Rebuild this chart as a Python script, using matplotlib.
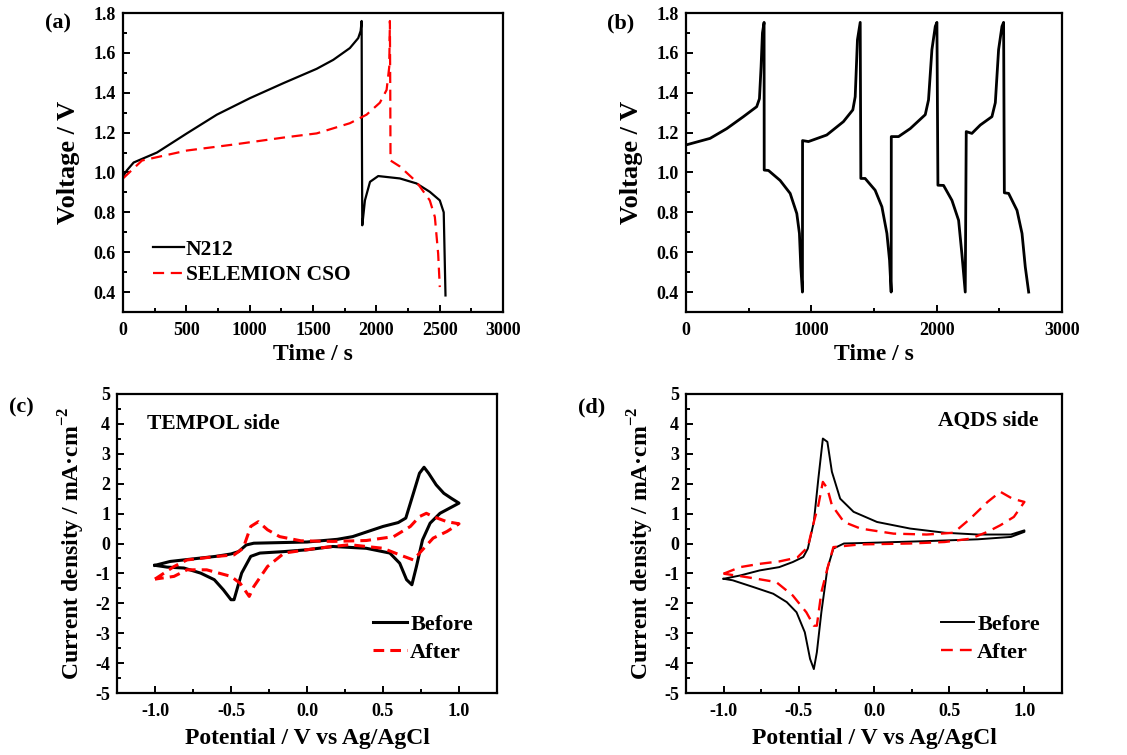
import numpy as np
import matplotlib
matplotlib.use("Agg")
import matplotlib.pyplot as plt
from matplotlib.ticker import MultipleLocator, FormatStrFormatter

# ---- panel (a): charge/discharge, two membranes ----
n212_t = [0, 30, 84, 268, 504, 741, 1003, 1266, 1529, 1660, 1791, 1857, 1876, 1884,
          1886, 1889, 1900, 1910, 1950, 2015, 2186, 2317, 2422, 2501, 2532, 2546]
n212_v = [0.98, 1.01, 1.05, 1.10, 1.196, 1.29, 1.373, 1.448, 1.52, 1.565, 1.624, 1.674, 1.71, 1.76,
          1.2, 0.735, 0.80, 0.86, 0.953, 0.982, 0.97, 0.945, 0.903, 0.86, 0.80, 0.383]

cso_t = [0, 50, 150, 504, 872, 1266, 1529, 1791, 1923, 2028, 2081, 2102, 2107,
         2110, 2112, 2186, 2317, 2422, 2462, 2488, 2501]
cso_v = [0.97, 1.00, 1.06, 1.11, 1.14, 1.175, 1.196, 1.247, 1.29, 1.35, 1.414, 1.53, 1.76,
         1.40, 1.06, 1.03, 0.953, 0.86, 0.777, 0.593, 0.425]

# ---- panel (b): cycling of N212 cell ----
cyc_t = [0, 192, 325, 458, 564, 586, 599, 610, 623,
         624, 658, 751, 831, 884, 905, 916, 929,
         930, 977, 1123, 1256, 1331, 1350, 1368, 1390,
         1395, 1429, 1509, 1563, 1603, 1624, 1637,
         1638, 1696, 1789, 1909, 1935, 1962, 1989, 2002,
         2010, 2055, 2122, 2175, 2201, 2228,
         2236, 2281, 2348, 2441, 2468, 2494, 2521, 2534,
         2540, 2574, 2641, 2681, 2707, 2734]
cyc_v = [1.138, 1.171, 1.22, 1.28, 1.33, 1.37, 1.53, 1.70, 1.753,
         1.012, 1.01, 0.96, 0.895, 0.794, 0.694, 0.526, 0.40,
         1.16, 1.155, 1.188, 1.255, 1.314, 1.38, 1.666, 1.753,
         0.97, 0.97, 0.911, 0.828, 0.694, 0.56, 0.40,
         1.18, 1.18, 1.22, 1.29, 1.364, 1.616, 1.733, 1.753,
         0.936, 0.935, 0.86, 0.76, 0.593, 0.40,
         1.205, 1.196, 1.238, 1.28, 1.35, 1.616, 1.733, 1.753,
         0.898, 0.895, 0.81, 0.694, 0.526, 0.40]

# ---- panel (c): TEMPOL side CV ----
tempol_before_e = [-1.0, -0.9, -0.6, -0.5, -0.45, -0.4, -0.35, 0.0, 0.2, 0.3, 0.4, 0.5, 0.6, 0.65,
                   0.7, 0.74, 0.77, 0.8, 0.85, 0.9, 0.95, 1.0,
                   0.875, 0.81, 0.76, 0.72, 0.69, 0.655, 0.61, 0.545, 0.39, 0.17, 0.0, -0.15,
                   -0.31, -0.37, -0.43, -0.48, -0.5, -0.55, -0.61, -0.7, -0.81, -0.92, -1.0]
tempol_before_j = [-0.73, -0.6, -0.43, -0.35, -0.27, -0.05, 0.01, 0.05, 0.14, 0.23, 0.4, 0.57, 0.7, 0.85,
                   1.68, 2.35, 2.55, 2.35, 1.96, 1.68, 1.51, 1.35,
                   1.01, 0.68, 0.12, -0.77, -1.38, -1.21, -0.66, -0.32, -0.16, -0.1, -0.21, -0.27,
                   -0.32, -0.43, -0.99, -1.88, -1.88, -1.55, -1.21, -0.99, -0.82, -0.79, -0.73]

tempol_after_e = [-1.0, -0.875, -0.79, -0.59, -0.48, -0.42, -0.37, -0.32, -0.26, -0.18, -0.04,
                  0.17, 0.39, 0.57, 0.68, 0.74, 0.785, 0.83, 0.92, 1.0,
                  0.92, 0.83, 0.76, 0.7, 0.61, 0.5, 0.28, 0.065, -0.15, -0.26, -0.35, -0.38,
                  -0.44, -0.5, -0.66, -0.79, -0.875, -1.0]
tempol_after_j = [-1.19, -0.77, -0.55, -0.43, -0.38, -0.16, 0.57, 0.73, 0.46, 0.23, 0.09,
                  0.07, 0.10, 0.23, 0.57, 0.9, 1.01, 0.9, 0.73, 0.66,
                  0.4, 0.18, -0.21, -0.55, -0.38, -0.16, -0.04, -0.16, -0.32, -0.77, -1.44, -1.77,
                  -1.33, -1.1, -0.88, -0.88, -1.1, -1.19]

# ---- panel (d): AQDS side CV ----
aqds_before_e = [-1.0, -0.89, -0.76, -0.63, -0.54, -0.47, -0.44, -0.4, -0.37, -0.34, -0.31, -0.28,
                 -0.225, -0.136, 0.02, 0.24, 0.47, 0.69, 0.91, 1.0,
                 1.0, 0.91, 0.69, 0.35, 0.02, -0.2, -0.27, -0.31, -0.35, -0.38, -0.4, -0.425,
                 -0.46, -0.515, -0.58, -0.67, -0.8, -0.94, -1.0]
aqds_before_j = [-1.18, -1.07, -0.9, -0.79, -0.62, -0.45, -0.17, 0.72, 2.17, 3.51, 3.4, 2.4,
                 1.5, 1.06, 0.72, 0.5, 0.36, 0.3, 0.3, 0.44,
                 0.39, 0.22, 0.14, 0.08, 0.03, 0.0, -0.17, -0.84, -2.3, -3.64, -4.2, -3.86,
                 -2.97, -2.3, -1.96, -1.68, -1.46, -1.23, -1.18]

aqds_after_e = [-1.0, -0.89, -0.76, -0.63, -0.51, -0.44, -0.4, -0.37, -0.34, -0.31, -0.28, -0.2,
                -0.09, 0.13, 0.35, 0.53, 0.64, 0.755, 0.84, 0.92, 1.0,
                0.93, 0.84, 0.755, 0.64, 0.47, 0.24, -0.09, -0.27, -0.31, -0.35, -0.38, -0.4,
                -0.45, -0.54, -0.65, -0.78, -0.89, -1.0]
aqds_after_j = [-1.01, -0.79, -0.68, -0.6, -0.47, -0.12, 0.72, 1.28, 2.06, 1.84, 1.28, 0.72,
                0.5, 0.33, 0.3, 0.36, 0.83, 1.39, 1.73, 1.5, 1.39,
                0.89, 0.61, 0.39, 0.16, 0.05, 0.0, -0.03, -0.12, -0.84, -1.63, -2.75, -2.75,
                -2.3, -1.74, -1.29, -1.18, -1.09, -1.01]

plt.rcParams['font.family'] = ['Liberation Serif', 'DejaVu Serif']
plt.rcParams['font.weight'] = 'bold'
plt.rcParams['axes.labelweight'] = 'bold'
plt.rcParams['mathtext.fontset'] = 'custom'
plt.rcParams['mathtext.rm'] = 'Liberation Serif:bold'
plt.rcParams['mathtext.bf'] = 'Liberation Serif:bold'

W, H = 1127, 755
fig = plt.figure(figsize=(W / 100, H / 100), dpi=100)


def make_axes(l, t, r, b):
    return fig.add_axes([l / W, (H - b) / H, (r - l) / W, (b - t) / H])


def style(ax):
    for s in ax.spines.values():
        s.set_linewidth(1.6)
    ax.tick_params(which='both', direction='in', top=False, right=False, labelsize=13, width=1.4)
    ax.tick_params(which='major', length=5, pad=5)
    ax.tick_params(which='minor', length=3)
    ax.tick_params(axis='x', which='major', pad=7)
    for lab in ax.get_xticklabels() + ax.get_yticklabels():
        lab.set_fontweight('bold')


red = '#ff0000'

# (a)
ax_a = make_axes(123, 13, 503, 312)
ax_a.plot(n212_t, n212_v, color='black', lw=1.6, label='N212')
ax_a.plot(cso_t, cso_v, color=red, lw=1.6, ls=(0, (5, 3)), label='SELEMION CSO')
ax_a.set_xlim(0, 3000)
ax_a.set_ylim(0.3, 1.8)
ax_a.xaxis.set_major_locator(MultipleLocator(500))
ax_a.xaxis.set_minor_locator(MultipleLocator(250))
ax_a.yaxis.set_major_locator(MultipleLocator(0.2))
ax_a.yaxis.set_minor_locator(MultipleLocator(0.1))
ax_a.yaxis.set_major_formatter(FormatStrFormatter('%.1f'))
ax_a.set_xlabel('Time / s', fontsize=17, labelpad=4)
ax_a.set_ylabel('Voltage / V', fontsize=19, labelpad=10)
ax_a.legend(loc='lower left', bbox_to_anchor=(0.055, 0.06), frameon=False, fontsize=15.5,
            handlelength=1.45, handletextpad=0.1, labelspacing=0.25, borderaxespad=0)
style(ax_a)
fig.text(58 / W, 1 - 23 / H, '(a)', fontsize=16, fontweight='bold', ha='center', va='center')

# (b)
ax_b = make_axes(686, 13, 1062, 312)
ax_b.plot(cyc_t, cyc_v, color='black', lw=2.0)
ax_b.set_xlim(0, 3000)
ax_b.set_ylim(0.3, 1.8)
ax_b.xaxis.set_major_locator(MultipleLocator(1000))
ax_b.xaxis.set_minor_locator(MultipleLocator(500))
ax_b.yaxis.set_major_locator(MultipleLocator(0.2))
ax_b.yaxis.set_minor_locator(MultipleLocator(0.1))
ax_b.yaxis.set_major_formatter(FormatStrFormatter('%.1f'))
ax_b.set_xlabel('Time / s', fontsize=17, labelpad=4)
ax_b.set_ylabel('Voltage / V', fontsize=19, labelpad=10)
style(ax_b)
fig.text(621 / W, 1 - 23 / H, '(b)', fontsize=16, fontweight='bold', ha='center', va='center')

ylab_cv = 'Current density / mA\u00b7cm$^{\\mathbf{-2}}$'

# (c)
ax_c = make_axes(117, 394, 497, 693)
ax_c.plot(tempol_before_e, tempol_before_j, color='black', lw=2.2, label='Before')
ax_c.plot(tempol_after_e, tempol_after_j, color=red, lw=2.2, ls=(0, (3.5, 2)), label='After')
ax_c.set_xlim(-1.25, 1.25)
ax_c.set_ylim(-5, 5)
ax_c.xaxis.set_major_locator(MultipleLocator(0.5))
ax_c.xaxis.set_minor_locator(MultipleLocator(0.25))
ax_c.yaxis.set_major_locator(MultipleLocator(1))
ax_c.yaxis.set_minor_locator(MultipleLocator(0.5))
ax_c.xaxis.set_major_formatter(FormatStrFormatter('%.1f'))
ax_c.yaxis.set_major_formatter(FormatStrFormatter('%d'))
ax_c.set_xlabel('Potential / V vs Ag/AgCl', fontsize=17, labelpad=6)
ax_c.set_ylabel(ylab_cv, fontsize=17, labelpad=6)
ax_c.text(0.08, 0.9, 'TEMPOL side', transform=ax_c.transAxes, fontsize=15.5,
          fontweight='bold', va='center')
ax_c.legend(loc='lower right', bbox_to_anchor=(0.96, 0.07), frameon=False, fontsize=16,
            handlelength=1.5, handletextpad=0.15, labelspacing=0.35, borderaxespad=0)
style(ax_c)
fig.text(21 / W, 1 - 407 / H, '(c)', fontsize=16, fontweight='bold', ha='center', va='center')

# (d)
ax_d = make_axes(686, 394, 1062, 693)
ax_d.plot(aqds_before_e, aqds_before_j, color='black', lw=1.4, label='Before')
ax_d.plot(aqds_after_e, aqds_after_j, color=red, lw=1.7, ls=(0, (5, 3)), label='After')
ax_d.set_xlim(-1.25, 1.25)
ax_d.set_ylim(-5, 5)
ax_d.xaxis.set_major_locator(MultipleLocator(0.5))
ax_d.xaxis.set_minor_locator(MultipleLocator(0.25))
ax_d.yaxis.set_major_locator(MultipleLocator(1))
ax_d.yaxis.set_minor_locator(MultipleLocator(0.5))
ax_d.xaxis.set_major_formatter(FormatStrFormatter('%.1f'))
ax_d.yaxis.set_major_formatter(FormatStrFormatter('%d'))
ax_d.set_xlabel('Potential / V vs Ag/AgCl', fontsize=17, labelpad=6)
ax_d.set_ylabel(ylab_cv, fontsize=17, labelpad=6)
ax_d.text(0.936, 0.91, 'AQDS side', transform=ax_d.transAxes, fontsize=15.5,
          fontweight='bold', va='center', ha='right')
ax_d.legend(loc='lower right', bbox_to_anchor=(0.965, 0.07), frameon=False, fontsize=16,
            handlelength=1.5, handletextpad=0.15, labelspacing=0.35, borderaxespad=0)
style(ax_d)
fig.text(592 / W, 1 - 407 / H, '(d)', fontsize=16, fontweight='bold', ha='center', va='center')

fig.savefig('out.png', dpi=100)
